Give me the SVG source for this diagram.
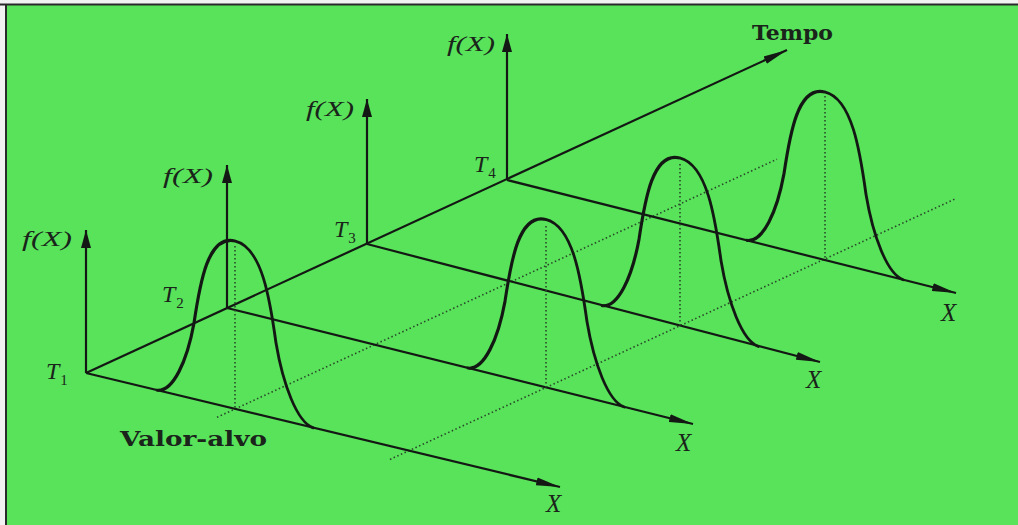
<svg xmlns="http://www.w3.org/2000/svg" xmlns:xlink="http://www.w3.org/1999/xlink" width="1018" height="525" viewBox="0 0 1018 525">
<style>
.ax{stroke:#141814;stroke-width:2.2;fill:none}
.bell{stroke:#141814;stroke-width:3;fill:none;stroke-linejoin:round;stroke-linecap:round}
.dot{stroke:#2a4a2a;stroke-width:1.6;fill:none;stroke-dasharray:1.5 2.5}
.it{font-family:"Liberation Serif","DejaVu Serif",serif;font-style:italic;fill:#1a241a}
.fx{font-size:21px}
.tl{font-size:24px}
.sub{font-size:15px;font-style:normal}
.xl{font-size:25px}
.bd{font-family:"DejaVu Serif","Liberation Serif",serif;font-weight:bold;fill:#1a241a}
</style>
<defs>
<marker id="ah" markerUnits="userSpaceOnUse" markerWidth="26" markerHeight="10" refX="24" refY="5" orient="auto"><path d="M0,1 L24,5 L0,9 z" fill="#141814"/></marker>
<marker id="av" markerUnits="userSpaceOnUse" markerWidth="20" markerHeight="12" refX="18" refY="6" orient="auto"><path d="M0,1 L18,6 L0,11 z" fill="#141814"/></marker>
<path id="bell" d="M-78,0 C-62,-2 -48,-36 -41,-76 C-35,-118 -27,-168 0,-168 C27,-168 35,-118 41,-76 C48,-36 62,-2 78,0"/>
</defs>
<rect x="0" y="0" width="1018" height="525" fill="#f2f2f2"/>
<rect x="6" y="5" width="1012" height="520" fill="#58e35a"/>
<line x1="0" y1="4.5" x2="1018" y2="4.5" stroke="#2a2a2a" stroke-width="2"/>
<line x1="6" y1="4" x2="6" y2="525" stroke="#2a2a2a" stroke-width="2"/>

<g id="connectors">
<line class="ax" x1="86" y1="373" x2="787" y2="50" marker-end="url(#ah)"/>
<line class="dot" x1="217" y1="417.3" x2="777" y2="159.2"/>
<line class="dot" x1="390" y1="459.4" x2="955" y2="199"/>
</g>

<g id="slice-T1">
<line class="ax" x1="86" y1="373" x2="86" y2="230" marker-end="url(#av)"/>
<line class="ax" x1="86" y1="373" x2="560" y2="487" marker-end="url(#ah)"/>
<text class="it fx" x="22" y="246" textLength="50" lengthAdjust="spacingAndGlyphs">f(X)</text>
<text class="it tl" x="46" y="379">T<tspan class="sub" dx="1" dy="6">1</tspan></text>
<text class="it xl" x="546" y="512">X</text>
</g>

<g id="slice-T2">
<line class="ax" x1="227" y1="308" x2="227" y2="165" marker-end="url(#av)"/>
<line class="ax" x1="227" y1="308" x2="693" y2="424" marker-end="url(#ah)"/>
<text class="it fx" x="163" y="183" textLength="50" lengthAdjust="spacingAndGlyphs">f(X)</text>
<text class="it tl" x="162" y="302">T<tspan class="sub" dx="1" dy="6">2</tspan></text>
<text class="it xl" x="676" y="451">X</text>
</g>

<g id="slice-T3">
<line class="ax" x1="367" y1="244" x2="367" y2="99" marker-end="url(#av)"/>
<line class="ax" x1="367" y1="244" x2="820" y2="362" marker-end="url(#ah)"/>
<text class="it fx" x="306" y="116" textLength="48" lengthAdjust="spacingAndGlyphs">f(X)</text>
<text class="it tl" x="334" y="237">T<tspan class="sub" dx="1" dy="6">3</tspan></text>
<text class="it xl" x="806" y="388">X</text>
</g>

<g id="slice-T4">
<line class="ax" x1="507" y1="180" x2="507" y2="34" marker-end="url(#av)"/>
<line class="ax" x1="507" y1="180" x2="956" y2="293" marker-end="url(#ah)"/>
<text class="it fx" x="447" y="51" textLength="48" lengthAdjust="spacingAndGlyphs">f(X)</text>
<text class="it tl" x="474" y="172">T<tspan class="sub" dx="1" dy="6">4</tspan></text>
<text class="it xl" x="941" y="321">X</text>
</g>

<g id="bell-1">
<line class="dot" x1="235" y1="246" x2="235" y2="409"/>
<use href="#bell" xlink:href="#bell" class="bell" transform="translate(235,409) skewY(13.52)"/>
</g>
<g id="bell-2">
<line class="dot" x1="546" y1="226" x2="546" y2="387.5"/>
<use href="#bell" xlink:href="#bell" class="bell" transform="translate(546,387.5) skewY(13.98)"/>
</g>
<g id="bell-3">
<line class="dot" x1="680" y1="164" x2="680" y2="326"/>
<use href="#bell" xlink:href="#bell" class="bell" transform="translate(680,326) skewY(14.6)"/>
</g>
<g id="bell-4">
<line class="dot" x1="825" y1="96" x2="825" y2="260"/>
<use href="#bell" xlink:href="#bell" class="bell" transform="translate(825,260) skewY(14.13)"/>
</g>

<g id="labels">
<text class="bd" x="120" y="446" font-size="20" textLength="147" lengthAdjust="spacingAndGlyphs">Valor-alvo</text>
<text class="bd" x="752" y="40" font-size="21" textLength="81" lengthAdjust="spacingAndGlyphs">Tempo</text>
</g>
</svg>
